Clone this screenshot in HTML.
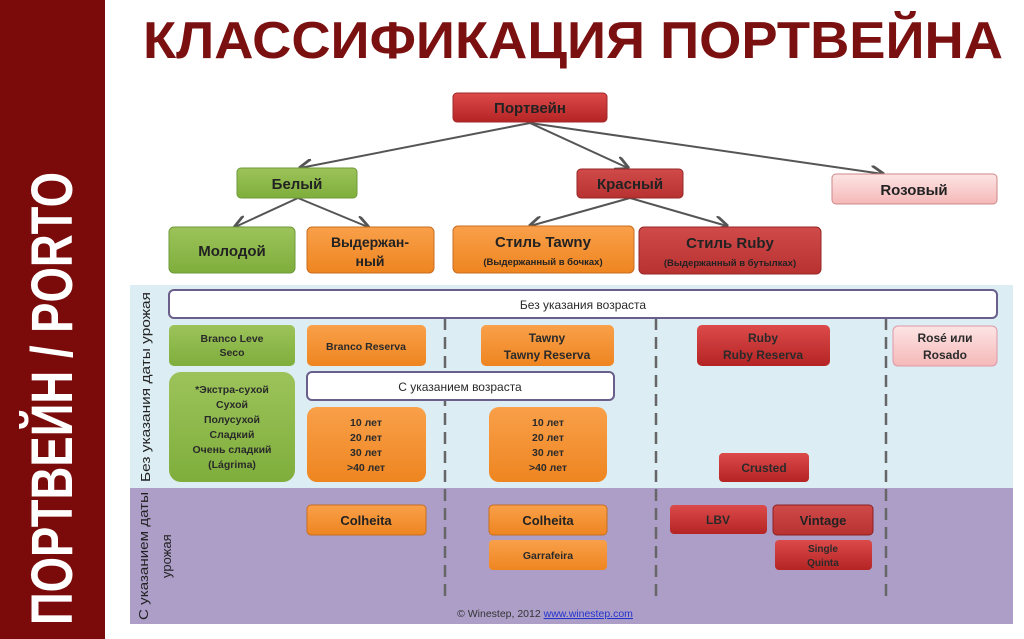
<!DOCTYPE html>
<html><head><meta charset="utf-8"><style>
html,body{margin:0;padding:0;background:#fff;}
svg{display:block;font-family:"Liberation Sans","DejaVu Sans",sans-serif;}
</style></head><body>
<svg width="1024" height="639" viewBox="0 0 1024 639" xmlns="http://www.w3.org/2000/svg">
<defs>
<linearGradient id="red" x1="0" y1="0" x2="0" y2="1"><stop offset="0" stop-color="#dc4a4a"/><stop offset="1" stop-color="#b52424"/></linearGradient>
<linearGradient id="red2" x1="0" y1="0" x2="0" y2="1"><stop offset="0" stop-color="#d04a4a"/><stop offset="1" stop-color="#b83232"/></linearGradient>
<linearGradient id="or" x1="0" y1="0" x2="0" y2="1"><stop offset="0" stop-color="#f9a04a"/><stop offset="1" stop-color="#ee8520"/></linearGradient>
<linearGradient id="gr" x1="0" y1="0" x2="0" y2="1"><stop offset="0" stop-color="#9cc35a"/><stop offset="1" stop-color="#7fae3c"/></linearGradient>
<linearGradient id="pk" x1="0" y1="0" x2="0" y2="1"><stop offset="0" stop-color="#fde4e4"/><stop offset="1" stop-color="#f5b8b8"/></linearGradient>
<marker id="ar" viewBox="0 0 10 10" refX="9" refY="5" markerWidth="7" markerHeight="7" orient="auto"><path d="M0,0 L10,5 L0,10" fill="none" stroke="#555" stroke-width="2"/></marker>
</defs>
<rect x="0" y="0" width="105" height="639" fill="#7b0a0a"/>
<text transform="translate(72,625) rotate(-90)" font-size="58" font-weight="bold" fill="#fff" textLength="453" lengthAdjust="spacingAndGlyphs">ПОРТВЕЙН / PORTO</text>
<text x="143" y="58" font-size="52" font-weight="bold" fill="#7a1010" textLength="860" lengthAdjust="spacingAndGlyphs">КЛАССИФИКАЦИЯ ПОРТВЕЙНА</text>

<g stroke="#555" stroke-width="2" fill="none" marker-end="url(#ar)">
<line x1="530" y1="123" x2="300" y2="168"/>
<line x1="530" y1="123" x2="628" y2="168"/>
<line x1="530" y1="123" x2="883" y2="174"/>
<line x1="298" y1="198" x2="235" y2="227"/>
<line x1="298" y1="198" x2="368" y2="227"/>
<line x1="630" y1="198" x2="530" y2="226"/>
<line x1="630" y1="198" x2="727" y2="226"/>
</g>

<g font-weight="bold" fill="#222" text-anchor="middle">
<rect x="453" y="93" width="154" height="29" rx="4" fill="url(#red)" stroke="#a02828"/>
<text x="530" y="113" font-size="15">Портвейн</text>
<rect x="237" y="168" width="120" height="30" rx="4" fill="url(#gr)" stroke="#6e9a3a"/>
<text x="297" y="189" font-size="15">Белый</text>
<rect x="577" y="169" width="106" height="29" rx="4" fill="url(#red2)" stroke="#962828"/>
<text x="630" y="189" font-size="15">Красный</text>
<rect x="832" y="174" width="165" height="30" rx="4" fill="url(#pk)" stroke="#c88"/>
<text x="914" y="195" font-size="15">Rозовый</text>
<rect x="169" y="227" width="126" height="46" rx="5" fill="url(#gr)" stroke="#6e9a3a"/>
<text x="232" y="256" font-size="15">Молодой</text>
<rect x="307" y="227" width="127" height="46" rx="5" fill="url(#or)" stroke="#c86d20"/>
<text x="370" y="247" font-size="14">Выдержан-</text><text x="370" y="266" font-size="14">ный</text>
<rect x="453" y="226" width="181" height="47" rx="5" fill="url(#or)" stroke="#c86d20"/>
<text x="543" y="247" font-size="15">Стиль Tawny</text><text x="543" y="265" font-size="9.5">(Выдержанный в бочках)</text>
<rect x="639" y="227" width="182" height="47" rx="5" fill="url(#red2)" stroke="#962828"/>
<text x="730" y="248" font-size="15">Стиль Ruby</text><text x="730" y="266" font-size="9.5">(Выдержанный в бутылках)</text>
</g>

<rect x="130" y="285" width="883" height="203" fill="#dcedf3"/>
<rect x="130" y="488" width="883" height="136" fill="#ad9ec8"/>
<g stroke="#666" stroke-width="2.5" stroke-dasharray="12,7">
<line x1="445" y1="318" x2="445" y2="602"/>
<line x1="656" y1="318" x2="656" y2="602"/>
<line x1="886" y1="318" x2="886" y2="602"/>
</g>
<text transform="translate(150,482) rotate(-90)" font-size="13" fill="#222" textLength="190" lengthAdjust="spacingAndGlyphs">Без указания даты урожая</text>
<text transform="translate(148,620) rotate(-90)" font-size="13" fill="#222" textLength="128" lengthAdjust="spacingAndGlyphs">С указанием даты</text>
<text transform="translate(171,578) rotate(-90)" font-size="13" fill="#222">урожая</text>

<g fill="#2a2a2a" text-anchor="middle" font-weight="bold">
<rect x="169" y="290" width="828" height="28" rx="5" fill="#fff" stroke="#6a5f8a" stroke-width="2"/>
<text x="583" y="309" font-size="12" font-weight="normal">Без указания возраста</text>
<rect x="169" y="325" width="126" height="41" rx="5" fill="url(#gr)"/>
<text x="232" y="342" font-size="10.5">Branco Leve</text><text x="232" y="356" font-size="10.5">Seco</text>
<rect x="307" y="325" width="119" height="41" rx="5" fill="url(#or)"/>
<text x="366" y="350" font-size="10.5">Branco Reserva</text>
<rect x="481" y="325" width="133" height="41" rx="5" fill="url(#or)"/>
<text x="547" y="342" font-size="12">Tawny</text><text x="547" y="359" font-size="12">Tawny Reserva</text>
<rect x="697" y="325" width="133" height="41" rx="5" fill="url(#red)"/>
<text x="763" y="342" font-size="12">Ruby</text><text x="763" y="359" font-size="12">Ruby Reserva</text>
<rect x="893" y="326" width="104" height="40" rx="5" fill="url(#pk)" stroke="#d9a"/>
<text x="945" y="342" font-size="12">Rosé или</text><text x="945" y="359" font-size="12">Rosado</text>
<rect x="307" y="372" width="307" height="28" rx="5" fill="#fff" stroke="#6a5f8a" stroke-width="2"/>
<text x="460" y="391" font-size="12" font-weight="normal">С указанием возраста</text>
<rect x="169" y="372" width="126" height="110" rx="12" fill="url(#gr)"/>
<g font-size="10.5"><text x="232" y="393">*Экстра-сухой</text><text x="232" y="408">Сухой</text><text x="232" y="423">Полусухой</text><text x="232" y="438">Сладкий</text><text x="232" y="453">Очень сладкий</text><text x="232" y="468">(Lágrima)</text></g>
<rect x="307" y="407" width="119" height="75" rx="10" fill="url(#or)"/>
<g font-size="10.5"><text x="366" y="426">10 лет</text><text x="366" y="441">20 лет</text><text x="366" y="456">30 лет</text><text x="366" y="471">&gt;40 лет</text></g>
<rect x="489" y="407" width="118" height="75" rx="10" fill="url(#or)"/>
<g font-size="10.5"><text x="548" y="426">10 лет</text><text x="548" y="441">20 лет</text><text x="548" y="456">30 лет</text><text x="548" y="471">&gt;40 лет</text></g>
<rect x="719" y="453" width="90" height="29" rx="4" fill="url(#red)"/>
<text x="764" y="472" font-size="12">Crusted</text>
<rect x="307" y="505" width="119" height="30" rx="4" fill="url(#or)" stroke="#c86d20"/>
<text x="366" y="525" font-size="13" fill="#222">Colheita</text>
<rect x="489" y="505" width="118" height="30" rx="4" fill="url(#or)" stroke="#c86d20"/>
<text x="548" y="525" font-size="13" fill="#222">Colheita</text>
<rect x="489" y="540" width="118" height="30" rx="4" fill="url(#or)"/>
<text x="548" y="559" font-size="10.5">Garrafeira</text>
<rect x="670" y="505" width="97" height="29" rx="4" fill="url(#red)"/>
<text x="718" y="524" font-size="12">LBV</text>
<rect x="773" y="505" width="100" height="30" rx="4" fill="url(#red2)" stroke="#8a2020"/>
<text x="823" y="525" font-size="13" fill="#222">Vintage</text>
<rect x="775" y="540" width="97" height="30" rx="4" fill="url(#red)"/>
<text x="823" y="552" font-size="10">Single</text><text x="823" y="566" font-size="10">Quinta</text>
<text x="545" y="617" font-size="10.5" fill="#333" font-weight="normal">© Winestep, 2012 <tspan fill="#2233cc" text-decoration="underline">www.winestep.com</tspan></text>
</g>
</svg>
</body></html>
